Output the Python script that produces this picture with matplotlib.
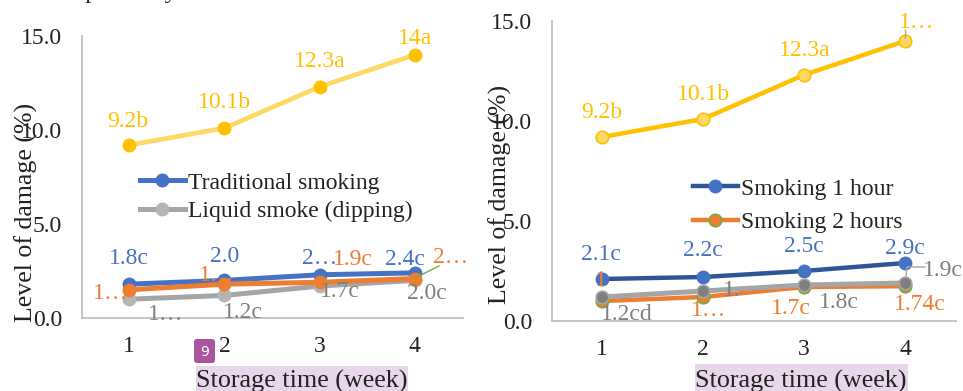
import matplotlib.pyplot as plt
from matplotlib.patches import FancyBboxPatch, Rectangle

plt.rcParams['font.family'] = ['Liberation Serif', 'DejaVu Sans']

weeks = [1, 2, 3, 4]
y_ticks = [0, 5, 10, 15]

# left chart
trad_smoking = [1.8, 2.0, 2.3, 2.4]
liquid_smoke = [1.0, 1.2, 1.7, 2.0]
left_orange = [1.5, 1.8, 1.9, 2.1]
left_yellow = [9.2, 10.1, 12.3, 14.0]
trad_labels = ['1.8c', '2.0', '2…', '2.4c']
liquid_labels = ['1…', '1.2c', '1.7c', '2.0c']
left_orange_labels = ['1…', '1…', '1.9c', '2…']
left_yellow_labels = ['9.2b', '10.1b', '12.3a', '14a']

# right chart
smoking_1h = [2.1, 2.2, 2.5, 2.9]
smoking_2h = [1.0, 1.2, 1.7, 1.74]
right_grey = [1.2, 1.5, 1.8, 1.9]
right_yellow = [9.2, 10.1, 12.3, 14.0]
h1_labels = ['2.1c', '2.2c', '2.5c', '2.9c']
h2_labels = ['1', '1…', '1.7c', '1.74c']
right_grey_labels = ['1.2cd', '1.', '1.8c', '1.9c']
right_yellow_labels = ['9.2b', '10.1b', '12.3a', '1…']

BLUE = '#4472c4'
ORANGE = '#ed7d31'
GREY = '#a5a5a5'
YELLOW = '#ffc000'
W, H = 963, 391


def px_axes(fig, left, right, top, bottom):
    ax = fig.add_axes([left / W, 1 - bottom / H, (right - left) / W, (bottom - top) / H])
    ax.set_xlim(0.5, 4.5)
    ax.set_ylim(0, 15)
    ax.set_xticks(weeks)
    ax.set_yticks(y_ticks)
    ax.set_yticklabels([f'{v:.1f}' for v in y_ticks])
    ax.tick_params(axis='x', length=0, pad=13, labelsize=17, labelcolor='#222222')
    ax.tick_params(axis='y', length=0, pad=14, labelsize=17, labelcolor='#222222')
    for side in ['top', 'right']:
        ax.spines[side].set_visible(False)
    for side in ['left', 'bottom']:
        ax.spines[side].set_color('#bfbfbf')
        ax.spines[side].set_linewidth(1.3)
    ax.patch.set_alpha(0)
    return ax


def put_labels(ax, vals, labels, offsets, color):
    for x, v, lab, off in zip(weeks, vals, labels, offsets):
        ax.annotate(lab, (x, v), xytext=(off[0], off[1] - 2), textcoords='offset pixels', color=color,
                    fontsize=17, ha='center', va='center', annotation_clip=False, zorder=6)


fig = plt.figure(figsize=(W / 100, H / 100), dpi=100)

# left chart
ax1 = px_axes(fig, 81.5, 462.5, 36, 318)
ax1.plot(weeks, left_yellow, color='#ffd966', lw=3.4, marker='o', ms=9, mfc=YELLOW, mec=YELLOW)
l_blue, = ax1.plot(weeks, trad_smoking, color=BLUE, lw=3.6, marker='o', ms=9, mfc=BLUE, mec=BLUE,
                   label='Traditional smoking')
l_grey, = ax1.plot(weeks, liquid_smoke, color=GREY, lw=3.6, marker='o', ms=9, mfc='#b5b5b5', mec='#b5b5b5',
                   label='Liquid smoke (dipping)')
ax1.plot(weeks, left_orange, color=ORANGE, lw=3.6, marker='o', ms=9, mfc=ORANGE, mec=ORANGE)
put_labels(ax1, left_yellow, left_yellow_labels, [(-1, 26), (0, 28), (0, 27), (0, 18)], YELLOW)
put_labels(ax1, trad_smoking, trad_labels, [(0, 28), (0, 26), (0, 18), (-10, 15)], BLUE)
put_labels(ax1, left_orange, left_orange_labels, [(-19, -2), (-8, 11), (33, 25), (36, 23)], ORANGE)
put_labels(ax1, liquid_smoke, liquid_labels, [(36, -13), (18, -15), (20, -3), (12, -11)], '#7f7f7f')
ax1.legend(handles=[l_blue, l_grey], frameon=False, fontsize=17, handlelength=1.9, handletextpad=0.12,
           labelspacing=0.29, loc='upper left', borderpad=0, borderaxespad=0, labelcolor='#222222',
           bbox_to_anchor=((140 - 81.5) / 381, 1 - (172 - 36) / 282))

# right chart
ax2 = px_axes(fig, 551.5, 955.5, 21, 321)
l_h1, = ax2.plot(weeks, smoking_1h, color='#2f5597', lw=3.2, marker='o', ms=9, mfc=BLUE, mec=BLUE,
                 label='Smoking 1 hour')
l_h2, = ax2.plot(weeks, smoking_2h, color=ORANGE, lw=3.2, marker='o', ms=9, mfc=ORANGE, mec='#70ad47', mew=1.2,
                 label='Smoking 2 hours')
ax2.plot(weeks, right_grey, color=GREY, lw=3.6, marker='o', ms=9, mfc='#7f7f7f', mec=GREY, mew=1.2)
ax2.plot(weeks, right_yellow, color=YELLOW, lw=3.2, marker='o', ms=9, mfc='#ffd966', mec=YELLOW, mew=1.2)
put_labels(ax2, right_yellow, right_yellow_labels, [(0, 26), (0, 27), (1, 27), (12, 21)], YELLOW)
put_labels(ax2, smoking_1h, h1_labels, [(-1, 27), (0, 28), (0, 27), (0, 16)], BLUE)
put_labels(ax2, smoking_2h, h2_labels, [(-1, 23), (6, -11), (-13, -19), (15, -16)], ORANGE)
put_labels(ax2, right_grey, right_grey_labels, [(25, -15), (29, 2), (35, -15), (38, 15)], '#7f7f7f')
ax2.legend(handles=[l_h1, l_h2], frameon=False, fontsize=17, handlelength=1.9, handletextpad=0.12,
           labelspacing=0.5, loc='upper left', borderpad=0, borderaxespad=0, labelcolor='#222222',
           bbox_to_anchor=((693 - 551.5) / 404, 1 - (178 - 21) / 300))

# overlay in pixel coordinates: axis titles, highlights, badge, leader lines
over = fig.add_axes([0, 0, 1, 1], zorder=10)
over.set_xlim(0, W)
over.set_ylim(H, 0)
over.axis('off')
over.patch.set_alpha(0)

over.add_patch(Rectangle((196, 366), 212, 25, color='#e8d6ea', lw=0))
over.add_patch(Rectangle((695, 364), 213, 27, color='#e8d6ea', lw=0))
over.text(302, 381, 'Storage time (week)', fontsize=18.8, ha='center', va='center', color='#222222')
over.text(801, 381, 'Storage time (week)', fontsize=18.8, ha='center', va='center', color='#222222')
over.text(26, 212, 'Level of damage (%)', fontsize=18.6, rotation=90, ha='center', va='center', color='#222222')
over.text(500, 194, 'Level of damage (%)', fontsize=18.6, rotation=90, ha='center', va='center', color='#222222')
over.text(56, -2, 'respectively.', fontsize=18, ha='left', va='baseline', color='#222222')

over.add_patch(FancyBboxPatch((196, 341), 17, 20, boxstyle='round,pad=2,rounding_size=3',
                              fc='#a9559f', ec='none'))
over.text(204.5, 352, '9', fontsize=10, family='DejaVu Sans', color='white', ha='center', va='center')

over.plot([415, 439], [278, 266], color='#70ad47', lw=1)
over.plot([906, 907, 925], [276, 267, 267], color='#a5a5a5', lw=1)
over.plot([905, 905], [30, 38], color='#a5a5a5', lw=1)

fig.savefig('out.png', dpi=100)
